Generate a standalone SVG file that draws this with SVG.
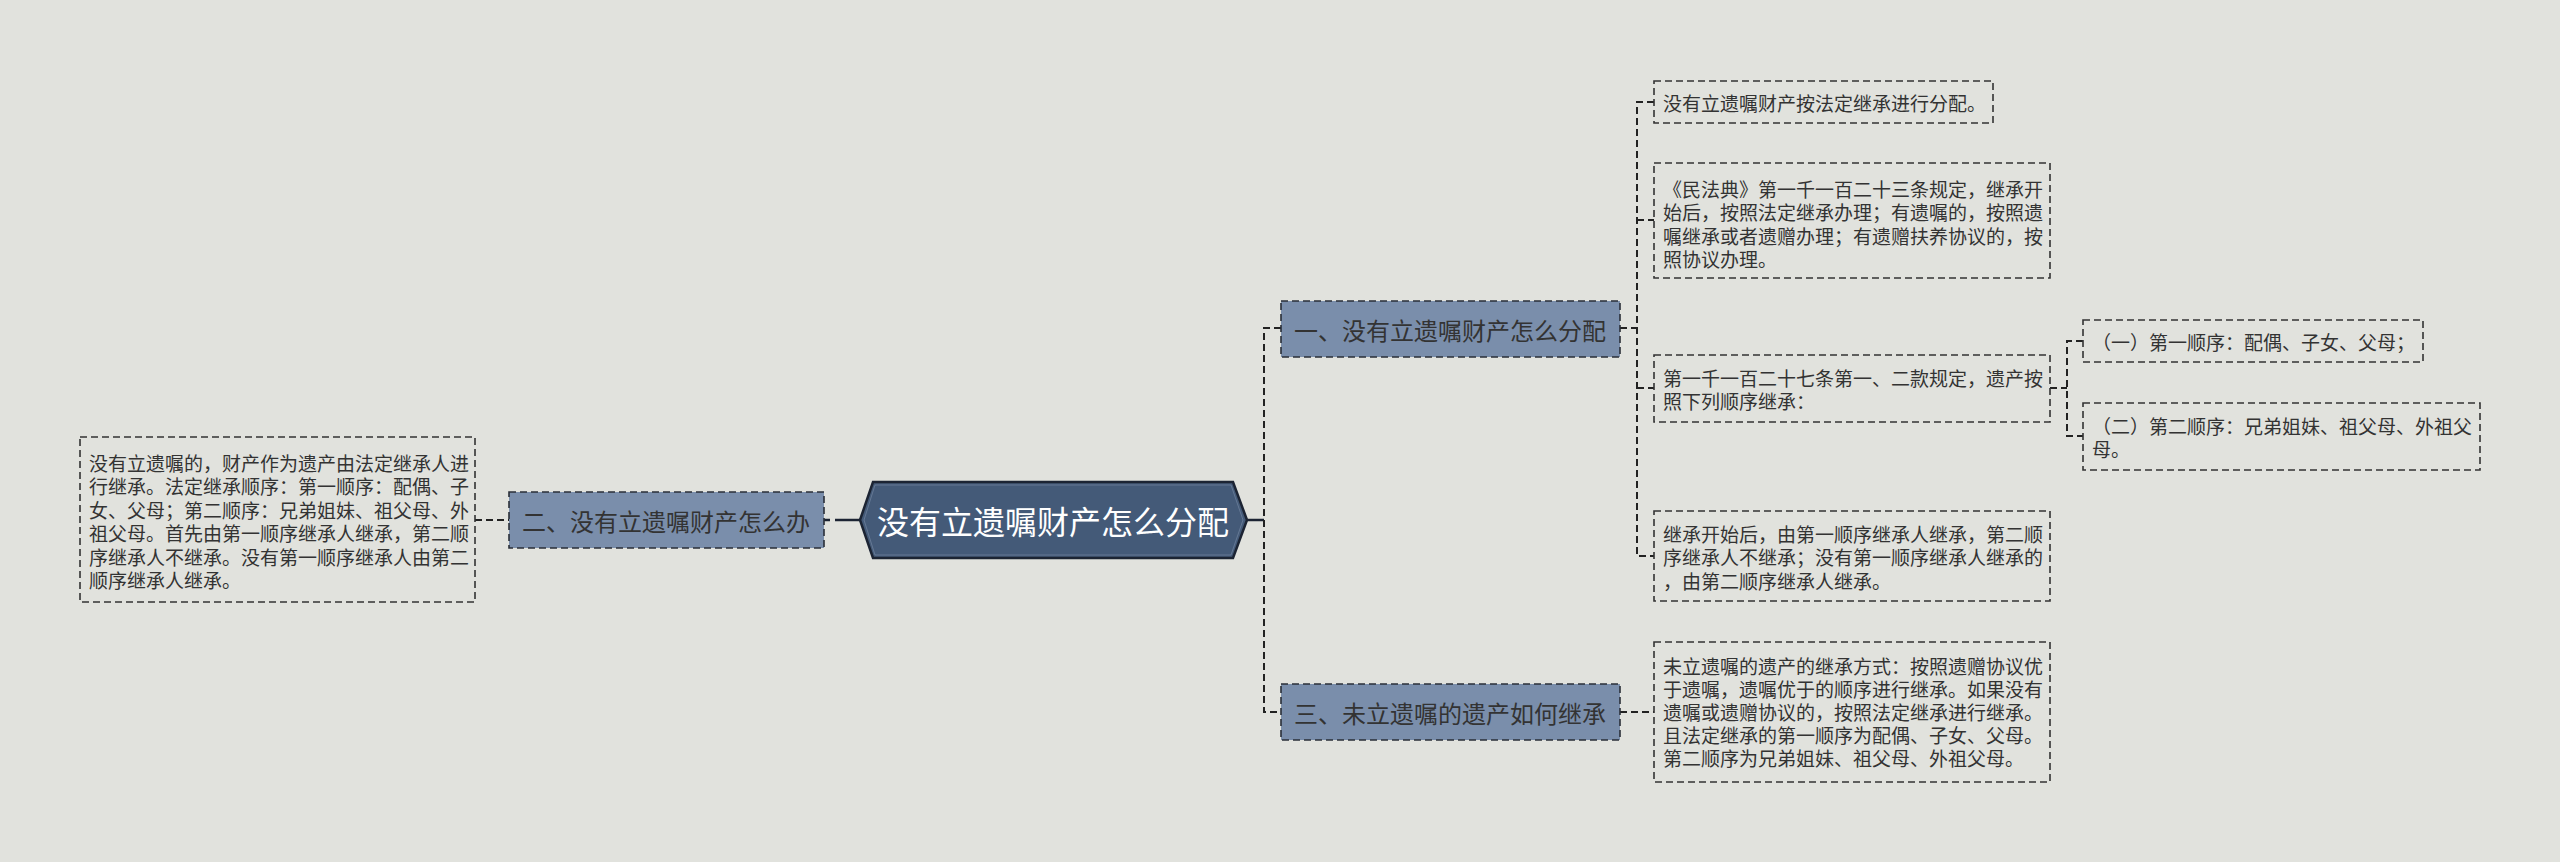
<svg xmlns="http://www.w3.org/2000/svg" width="2560" height="862" viewBox="0 0 2560 862">
<style>
text{font-family:"Noto Sans CJK SC","Liberation Sans",sans-serif;dominant-baseline:central}
.leaf rect{fill:none;stroke:#333;stroke-width:1.6;stroke-dasharray:7 4}
.leaf text{font-size:19px;fill:#333}
.l1 rect{fill:#7a8eab;stroke:#2a2f38;stroke-width:1.6;stroke-dasharray:7 4}
.l1 text{font-size:24px;fill:#333}
.dash{fill:none;stroke:#222;stroke-width:2;stroke-dasharray:7 4}
.solid{fill:none;stroke:#1c2433;stroke-width:2.5}
</style>
<rect width="2560" height="862" fill="#e1e2dd"/>
<g id="connectors">
<path class="solid" d="M835 520H860"/>
<path class="solid" d="M824 520H830" stroke-width="2"/>
<path class="dash" d="M475 520H509"/>
<path class="solid" d="M1247 520H1264"/>
<path class="dash" d="M1281 328H1264V712H1281"/>
<path class="dash" d="M1620 328H1637"/>
<path class="dash" d="M1654 102H1637V556H1654M1637 220H1654M1637 388H1654"/>
<path class="dash" d="M2050 388H2067M2083 341H2067V436H2083"/>
<path class="dash" d="M1620 712H1654"/>
</g>
<g id="center">
<polygon points="860,520 873,482 1233,482 1247,520 1233,558 873,558" fill="#445a78" stroke="#1c2433" stroke-width="2.5"/>
<polygon points="864,520 875,485 1231,485 1243,520 1231,555 875,555" fill="none" stroke="#8a9ab3" stroke-width="0.8" opacity="0.6"/>
<text x="1053" y="520" font-size="32" fill="#fff" text-anchor="middle">没有立遗嘱财产怎么分配</text>
</g>
<g id="node-left" class="l1">
<rect x="509" y="492" width="315" height="56"/>
<text x="666" y="520" text-anchor="middle">二、没有立遗嘱财产怎么办</text>
</g>
<g id="node-1" class="l1">
<rect x="1281" y="301" width="339" height="56"/>
<text x="1450" y="329" text-anchor="middle">一、没有立遗嘱财产怎么分配</text>
</g>
<g id="node-3" class="l1">
<rect x="1281" y="684" width="339" height="56"/>
<text x="1450" y="712" text-anchor="middle">三、未立遗嘱的遗产如何继承</text>
</g>
<g id="leaf-left" class="leaf">
<rect x="80" y="437" width="395" height="165"/>
<text x="89" y="462">没有立遗嘱的，财产作为遗产由法定继承人进</text>
<text x="89" y="485.5">行继承。法定继承顺序：第一顺序：配偶、子</text>
<text x="89" y="509">女、父母；第二顺序：兄弟姐妹、祖父母、外</text>
<text x="89" y="532.5">祖父母。首先由第一顺序继承人继承，第二顺</text>
<text x="89" y="556">序继承人不继承。没有第一顺序继承人由第二</text>
<text x="89" y="579.5">顺序继承人继承。</text>
</g>
<g id="leaf-1" class="leaf">
<rect x="1654" y="81" width="339" height="42"/>
<text x="1663" y="102">没有立遗嘱财产按法定继承进行分配。</text>
</g>
<g id="leaf-2" class="leaf">
<rect x="1654" y="163" width="396" height="115"/>
<text x="1663" y="188">《民法典》第一千一百二十三条规定，继承开</text>
<text x="1663" y="211.5">始后，按照法定继承办理；有遗嘱的，按照遗</text>
<text x="1663" y="235">嘱继承或者遗赠办理；有遗赠扶养协议的，按</text>
<text x="1663" y="258.5">照协议办理。</text>
</g>
<g id="leaf-3" class="leaf">
<rect x="1654" y="355" width="396" height="67"/>
<text x="1663" y="377">第一千一百二十七条第一、二款规定，遗产按</text>
<text x="1663" y="400.5">照下列顺序继承：</text>
</g>
<g id="leaf-3a" class="leaf">
<rect x="2083" y="320" width="340" height="42"/>
<text x="2092" y="341">（一）第一顺序：配偶、子女、父母；</text>
</g>
<g id="leaf-3b" class="leaf">
<rect x="2083" y="403" width="397" height="67"/>
<text x="2092" y="425">（二）第二顺序：兄弟姐妹、祖父母、外祖父</text>
<text x="2092" y="448.5">母。</text>
</g>
<g id="leaf-4" class="leaf">
<rect x="1654" y="511" width="396" height="90"/>
<text x="1663" y="533">继承开始后，由第一顺序继承人继承，第二顺</text>
<text x="1663" y="556.5">序继承人不继承；没有第一顺序继承人继承的</text>
<text x="1663" y="580">，由第二顺序继承人继承。</text>
</g>
<g id="leaf-5" class="leaf">
<rect x="1654" y="642" width="396" height="140"/>
<text x="1663" y="665">未立遗嘱的遗产的继承方式：按照遗赠协议优</text>
<text x="1663" y="688">于遗嘱，遗嘱优于的顺序进行继承。如果没有</text>
<text x="1663" y="711">遗嘱或遗赠协议的，按照法定继承进行继承。</text>
<text x="1663" y="734">且法定继承的第一顺序为配偶、子女、父母。</text>
<text x="1663" y="757">第二顺序为兄弟姐妹、祖父母、外祖父母。</text>
</g>
</svg>
